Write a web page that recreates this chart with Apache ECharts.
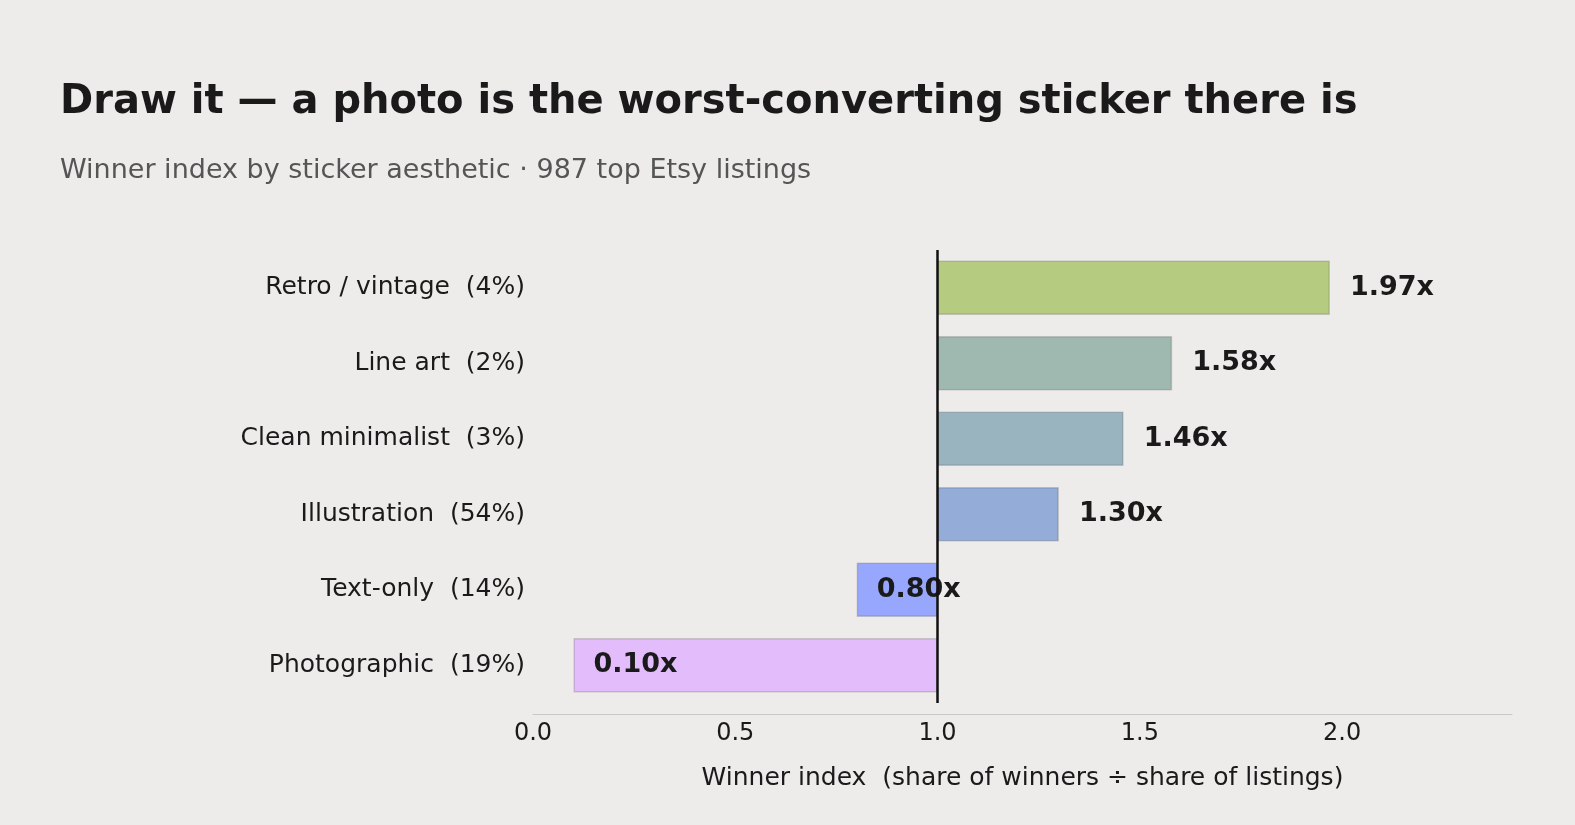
<!DOCTYPE html>
<html><head><meta charset="utf-8">
<script src="https://cdn.jsdelivr.net/npm/echarts@6/dist/echarts.min.js"></script>
<style>html,body{margin:0;background:#edecea}#c{width:1575px;height:825px}</style>
</head><body><div id="c"></div>
<script>
const categories = ["Photographic  (19%)","Text-only  (14%)","Illustration  (54%)","Clean minimalist  (3%)","Line art  (2%)","Retro / vintage  (4%)"];
const values = [0.10, 0.80, 1.30, 1.46, 1.58, 1.97];
const colors = ["#e3bcfb","#97a7fd","#93acd8","#99b4bf","#a0b9b0","#b5cb7f"];
const xTicks = [0.0, 0.5, 1.0, 1.5, 2.0];
const baseline = 1.0;

const chart = echarts.init(document.getElementById('c'));
const F = 'DejaVu Sans';
chart.setOption({
  backgroundColor:'#edecea',
  animation:false,
  title:[
    {text:'Draw it — a photo is the worst-converting sticker there is',left:55,top:78,textStyle:{fontFamily:F,fontSize:40,fontWeight:'bold',color:'#1a1a1a'}},
    {text:'Winner index by sticker aesthetic · 987 top Etsy listings',left:55,top:152,textStyle:{fontFamily:F,fontSize:27,fontWeight:'normal',color:'#555'}}
  ],
  grid:{left:533,right:63,top:250,bottom:122},
  xAxis:{type:'value',min:0,max:2.42,interval:0.5,offset:11,
    axisLine:{show:true,lineStyle:{color:'#c8c8c8'}},axisTick:{show:false},splitLine:{show:false},
    axisLabel:{fontFamily:F,fontSize:24,color:'#1a1a1a',margin:8,
      formatter:v=>xTicks.some(t=>Math.abs(t-v)<1e-9)?v.toFixed(1):''},
    name:'Winner index  (share of winners ÷ share of listings)',nameLocation:'middle',nameGap:52,
    nameTextStyle:{fontFamily:F,fontSize:25,color:'#1a1a1a'}},
  yAxis:{type:'category',data:categories,axisLine:{show:false},axisTick:{show:false},
    axisLabel:{fontFamily:F,fontSize:25,color:'#1a1a1a',margin:8}},
  series:[
    {type:'bar',stack:'s',silent:true,data:values.map(v=>Math.min(v,baseline)),itemStyle:{color:'transparent'},barWidth:'72%'},
    {type:'bar',stack:'s',barWidth:'72%',
      data:values.map((v,i)=>({value:Math.abs(v-baseline),
        itemStyle:{color:colors[i],borderColor:'rgba(0,0,0,0.15)',borderWidth:1.5},
        label:{show:true,position:v<baseline?'insideLeft':'right',distance:20,
          formatter:v.toFixed(2)+'x',fontFamily:F,fontSize:27,fontWeight:'bold',color:'#1a1a1a'}})),
      markLine:{symbol:'none',silent:true,label:{show:false},lineStyle:{color:'#111',width:2.5,type:'solid'},data:[{xAxis:baseline}]}
    }
  ]
});
</script></body></html>
